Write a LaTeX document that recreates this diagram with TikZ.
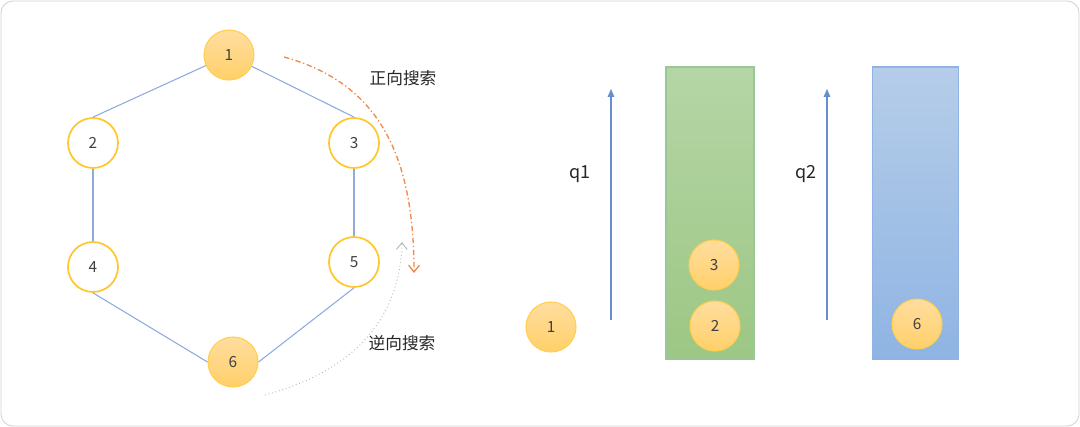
\documentclass[tikz,border=0pt]{standalone}
\usepackage{fontspec}
\setmainfont{Noto Sans CJK SC}
\usetikzlibrary{arrows.meta}
\definecolor{edgeblue}{HTML}{8FAADC}
\definecolor{ringyellow}{HTML}{FFC72C}
\definecolor{ballTop}{HTML}{FFDD9E}
\definecolor{ballBot}{HTML}{FFD06A}
\definecolor{ballRim}{HTML}{FFCF4D}
\definecolor{fwdorange}{HTML}{F08A4B}
\definecolor{qblue}{HTML}{4472C4}
\definecolor{numgray}{HTML}{404040}

\begin{document}
\begin{tikzpicture}[x=0.75pt, y=-0.75pt,
	ring/.style={draw=ringyellow, line width=1.3pt, circle, minimum size=37.5pt, inner sep=0pt, fill=white, text=numgray, font=\fontsize{11.5}{13}\selectfont},
	ball/.style={draw=ballRim, line width=0.8pt, circle, minimum size=37.5pt, inner sep=0pt, top color=ballTop, bottom color=ballBot, text=numgray, font=\fontsize{11.5}{13}\selectfont},
	link/.style={draw=edgeblue, line width=0.8pt},
	tag/.style={font=\fontsize{12.5}{14}\selectfont, text=black!85},
	qtag/.style={font=\fontsize{13.5}{15}\selectfont, text=black!85},
	queue/.style={line width=0.8pt}]
				\useasboundingbox (0,0) rectangle (1080,427);
				\draw[black!18, line width=0.6pt, rounded corners=9pt] (1,1) rectangle (1079,426);
				% graph
				\node[ball] (n1)at(229, 55) {1};
				\node[ring] (n2)at(93, 143) {2};
				\node[ring] (n3)at(354, 143) {3};
				\node[ring] (n4)at(93, 267) {4};
				\node[ring] (n5)at(354, 262) {5};
				\node[ball] (n6)at(233, 362) {6};
				\draw[link] (n1) -- (n2.north);
				\draw[link] (n1) -- (n3.north);
				\draw[link] (n2) -- (n4);
				\draw[link] (n3) -- (n5);
				\draw[link] (n4.south) -- (n6.west);
				\draw[link] (n5.south) -- (n6.east);
				% search directions
				\coordinate (fwdS) at (284, 57);
				\coordinate (fwdE) at (414, 273);
				\coordinate (bwdS) at (265, 395);
				\coordinate (bwdE) at (402, 242);
				\draw[fwdorange, line width=1pt, dash pattern=on 4pt off 2pt on 1pt off 2pt, -{Straight Barb[length=5pt, width=8pt]}]
					(fwdS) .. controls (375, 82) and (414, 150) .. (fwdE);
				\draw[black!28, line width=0.7pt, dotted, -{Straight Barb[length=5pt, width=8pt]}]
					(bwdS) .. controls (350, 372) and (400, 322) .. (bwdE);
				\node[tag] (fwdT)at(403, 78) {正向搜索};
				\node[tag] (bwdT)at(402, 343) {逆向搜索};
				% queue q1
				\node[draw=green!45!black!40, queue, top color={rgb,255:red,181;green,213;blue,166}, bottom color={rgb,255:red,157;green,199;blue,132}, minimum width=66pt, minimum height=219pt, inner sep=0pt] (Q1)at(710, 213) {};
				\coordinate (q1b) at (611, 320);
				\coordinate (q1t) at (611, 89);
				\draw[qblue!80, line width=0.8pt, -{Triangle[length=6pt, width=5pt]}] (q1b) -- (q1t);
				\node[qtag] (q1l)at(580, 174) {q1};
				\node[ball] (a1)at(551, 327) {1};
				\node[ball] (a3)at(714, 265) {3};
				\node[ball] (a2)at(715, 326) {2};
				% queue q2
				\node[draw={rgb,255:red,143;green,180;blue,227}, queue, top color={rgb,255:red,181;green,205;blue,233}, bottom color={rgb,255:red,143;green,180;blue,227}, minimum width=65pt, minimum height=219pt, inner sep=0pt] (Q2)at(915.5, 213) {};
				\coordinate (q2b) at (827, 320);
				\coordinate (q2t) at (827, 89);
				\draw[qblue!80, line width=0.8pt, -{Triangle[length=6pt, width=5pt]}] (q2b) -- (q2t);
				\node[qtag] (q2l)at(806, 174) {q2};
				\node[ball] (b6)at(917, 324) {6};
\end{tikzpicture}
\end{document}
